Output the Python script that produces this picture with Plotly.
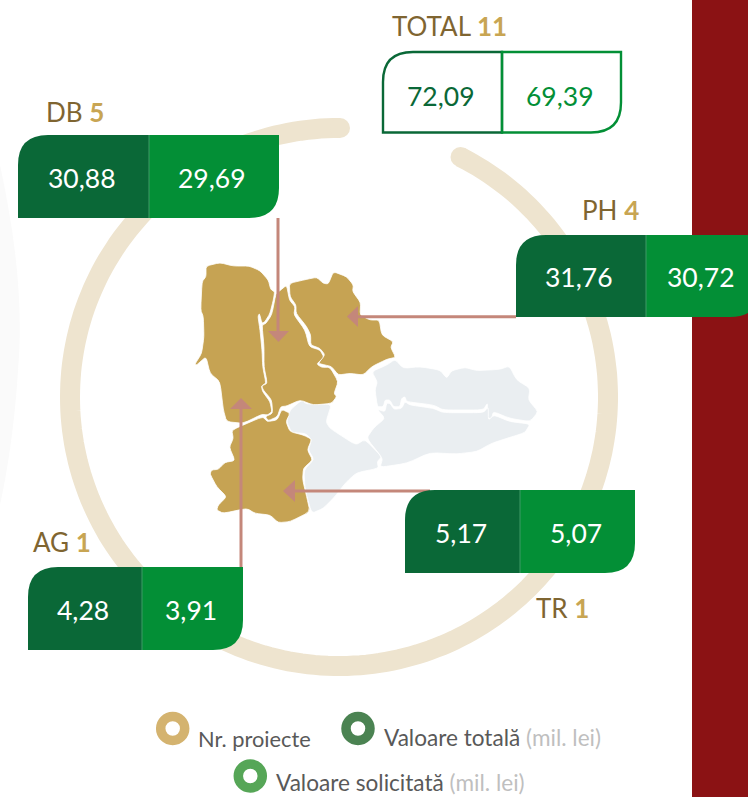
import math
import plotly.graph_objects as go

# ---- data ----
regions = ["DB", "PH", "TR", "AG"]
projects = [5, 4, 1, 1]
total_value = [30.88, 31.76, 5.17, 4.28]
requested_value = [29.69, 30.72, 5.07, 3.91]
total_label = "TOTAL"
total_projects = 11
total_all = 72.09
requested_all = 69.39
legend_items = ["Nr. proiecte", "Valoare totală", "Valoare solicitată"]
legend_unit = "(mil. lei)"

# ---- palette ----
DARK = "#0A6837"; LIGHT = "#038F36"; RING = "#EEE4CF"; RED = "#8B1214"
GOLD = "#C6A353"; GREY = "#EAEEF1"; ARROW = "#C4877A"; BROWN = "#7F6531"; NUM = "#C8A553"
FONT = "Lato"

W, H = 748, 797
shapes, ann = [], []

def fmt(v):
    return f"{v:.2f}".replace(".", ",")

def fill(path, color, lw=0, lc=None):
    shapes.append(dict(type="path", path=path, fillcolor=color, xref="x", yref="y", layer="below",
                       line=dict(width=lw, color=lc or color)))

def stroke(path, color, lw):
    shapes.append(dict(type="path", path=path, xref="x", yref="y", layer="below",
                       line=dict(width=lw, color=color)))

def zpoly(pts, t=0.25):
    # traced outline with softly rounded vertices
    p = [(190 + x / 3, 250 + y / 3) for x, y in pts]
    n = len(p)
    d = ""
    for i in range(n):
        a, b, c = p[i - 1], p[i], p[(i + 1) % n]
        s = (b[0] + (a[0] - b[0]) * t, b[1] + (a[1] - b[1]) * t)
        e = (b[0] + (c[0] - b[0]) * t, b[1] + (c[1] - b[1]) * t)
        d += ("M" if i == 0 else " L") + f"{s[0]:.1f},{s[1]:.1f} Q{b[0]:.1f},{b[1]:.1f} {e[0]:.1f},{e[1]:.1f}"
    return d + " Z"

def text(x, y, s, size, color="#FFFFFF", anchor="center"):
    ann.append(dict(x=x, y=y, text=s, showarrow=False, xref="x", yref="y", xanchor=anchor, yanchor="middle",
                    font=dict(family=FONT, size=size, color=color)))

def disc(cx, cy, r, color):
    shapes.append(dict(type="circle", x0=cx - r, x1=cx + r, y0=cy - r, y1=cy + r, xref="x", yref="y",
                       layer="below", fillcolor=color, line=dict(width=0)))

# page background pieces
fill("M692,0 L748,0 L748,797 L692,797 Z", RED)
fill("M0,165 C14,230 24,300 18,370 C15,420 8,470 0,505 Z", "#FAFAFA")

# ring
cx, cy, R = 339, 397, 269
a0 = math.atan2(158 - cy, 460 - cx)
a1 = math.atan2(128 - cy, 340 - cx) + 2 * math.pi
n = 240
ring = [(cx + R * math.cos(a0 + (a1 - a0) * i / n), cy + R * math.sin(a0 + (a1 - a0) * i / n)) for i in range(n + 1)]
stroke("M" + " L".join(f"{x:.1f},{y:.1f}" for x, y in ring), RING, 20)
disc(*ring[0], 10, RING)
disc(*ring[-1], 10, RING)

# map
west = [(48,48),(90,38),(130,48),(178,48),(210,62),(235,90),(242,118),(254,126),(250,150),(240,190),(225,215),(216,220),(208,190),(204,200),(210,240),(216,300),(218,350),(228,400),(214,408),(218,425),(240,455),(246,485),(232,495),(215,493),(160,520),(110,515),(100,480),(90,395),(60,370),(48,320),(20,345),(15,342),(35,310),(42,260),(40,200),(32,180),(36,95),(48,80)]
mid = [(290,105),(298,150),(315,170),(312,195),(345,240),(358,290),(390,300),(402,322),(380,342),(395,352),(420,352),(445,395),(432,430),(440,440),(425,460),(370,465),(330,450),(290,468),(272,470),(262,500),(235,512),(226,500),(248,490),(245,450),(220,420),(215,408),(232,400),(222,350),(222,290),(216,225),(228,220),(245,195),(258,130),(270,122)]
ne = [(298,100),(350,88),(380,82),(400,100),(415,102),(430,65),(470,80),(490,105),(488,125),(512,158),(510,195),(540,210),(568,210),(575,255),(610,275),(602,292),(617,322),(590,328),(545,350),(520,375),(480,370),(445,375),(425,350),(405,345),(385,340),(405,315),(390,295),(362,285),(362,255),(350,230),(318,190),(318,165),(300,140)]
south = [(125,540),(218,500),(232,515),(262,510),(275,478),(300,490),(288,515),(300,545),(340,555),(365,568),(352,600),(368,630),(340,655),(338,690),(350,740),(360,785),(300,815),(265,818),(240,795),(195,790),(170,775),(100,790),(80,780),(85,765),(110,740),(80,710),(60,672),(65,660),(85,658),(105,637),(135,632),(118,592),(130,565)]
g1 = [(300,480),(335,450),(350,462),(425,462),(408,515),(420,535),(497,585),(525,568),(575,620),(562,635),(565,655),(500,668),(470,695),(430,745),(400,775),(365,790),(345,720),(342,660),(372,628),(355,600),(365,568),(345,550),(305,548),(290,515)]
g2 = [(545,365),(590,345),(615,328),(640,355),(690,350),(750,360),(770,385),(785,362),(825,352),(860,362),(930,358),(958,348),(980,390),(1020,415),(1015,450),(1045,485),(1020,515),(960,505),(910,485),(905,505),(890,505),(893,458),(880,480),(760,480),(730,465),(650,455),(645,440),(635,445),(630,470),(610,470),(600,450),(585,450),(580,470),(562,470),(555,420),(562,395)]
g3 = [(562,478),(585,485),(590,460),(600,460),(612,478),(635,475),(645,455),(660,465),(730,475),(760,488),(880,488),(895,470),(895,510),(912,495),(960,515),(1020,522),(1005,548),(960,562),(905,580),(860,605),(800,612),(720,608),(650,640),(570,652),(578,625),(530,565),(550,535),(585,505)]
for p in (g1, g2, g3):
    fill(zpoly(p), GREY, 0.8, "#FFFFFF")
for p in (west, mid, ne, south):
    fill(zpoly(p), GOLD, 0.8, "#FFFFFF")

# leader lines
stroke("M278,218 L278,333", ARROW, 3)
fill("M268,331 L289,331 L278.5,342 Z", ARROW)
stroke("M516,316.7 L357,316.7", ARROW, 3)
fill("M358,306 L358,327 L347,316.5 Z", ARROW)
stroke("M430,491 L294,491", ARROW, 3)
fill("M295,480 L295,502 L283,491 Z", ARROW)
stroke("M241,567 L241,408", ARROW, 3)
fill("M230,409 L252,409 L241,398 Z", ARROW)

# boxes
def box_left(x0, x1, y0, y1, r=30):
    return f"M{x0},{y0+r} Q{x0},{y0} {x0+r},{y0} L{x1},{y0} L{x1},{y1} L{x0},{y1} Z"

def box_right(x0, x1, y0, y1, r=30):
    return f"M{x0},{y0} L{x1},{y0} L{x1},{y1-r} Q{x1},{y1} {x1-r},{y1} L{x0},{y1} Z"

boxes = {"DB": (18, 149, 279, 135, 218), "PH": (516, 646, 760, 235, 317),
         "TR": (405, 520, 635, 490, 573), "AG": (28, 142, 243, 567, 650)}
labels = {"DB": (44, 112), "PH": (580, 210), "TR": (534, 608), "AG": (31, 542)}
VAL = 26.5
LAB = 26
for i, name in enumerate(regions):
    x0, xm, x1, y0, y1 = boxes[name]
    fill(box_left(x0, xm, y0, y1), DARK)
    fill(box_right(xm, x1, y0, y1), LIGHT)
    stroke(f"M{xm},{y0} L{xm},{y1}", "#3E9A66", 1)
    text((x0 + xm) / 2 - 2, (y0 + y1) / 2 + 1, fmt(total_value[i]), VAL)
    text((xm + x1) / 2 - 2, (y0 + y1) / 2 + 1, fmt(requested_value[i]), VAL)
    lx, ly = labels[name]
    text(lx, ly, f'{name} <b><span style="color:{NUM}">{projects[i]}</span></b>', LAB, BROWN, "left")

# total box
stroke(box_left(383, 502, 52, 132.5), DARK, 2.4)
stroke(box_right(502, 621, 52, 132.5), LIGHT, 2.4)
text(440.5, 96, fmt(total_all), VAL, DARK)
text(559.5, 96, fmt(requested_all), VAL, LIGHT)
text(390, 26, f'{total_label} <b><span style="color:{NUM}">{total_projects}</span></b>', LAB, BROWN, "left")

# legend
def donut(x, y, color):
    shapes.append(dict(type="circle", x0=x - 12, x1=x + 12, y0=y - 12, y1=y + 12, xref="x", yref="y",
                       layer="below", fillcolor="#FFFFFF", line=dict(width=9.5, color=color)))

LEG = 22.6
donut(172.7, 728.5, "#D4B36F")
donut(358, 728.5, "#4B8352")
donut(250.3, 776, "#56A657")
unit = f'<span style="color:#BFBFBF">{legend_unit}</span>'
text(196, 738, legend_items[0], 21.8, "#595959", "left")
text(382, 737, f"{legend_items[1]} {unit}", LEG, "#595959", "left")
text(274, 782.5, f"{legend_items[2]} {unit}", LEG, "#595959", "left")

fig = go.Figure()
# invisible anchor trace that keeps the axes live
fig.add_trace(go.Scatter(x=[0, W], y=[0, H], mode="markers", marker=dict(opacity=0), hoverinfo="skip", showlegend=False))
fig.update_layout(
    width=W, height=H, autosize=False, margin=dict(l=0, r=0, t=0, b=0),
    paper_bgcolor="#FFFFFF", plot_bgcolor="#FFFFFF", showlegend=False,
    xaxis=dict(range=[0, W], visible=False, fixedrange=True),
    yaxis=dict(range=[H, 0], visible=False, fixedrange=True),
    shapes=shapes, annotations=ann, font=dict(family=FONT),
)
fig.write_html("out.html", config=dict(displayModeBar=False),
               post_script="document.body.style.margin='0';document.body.style.overflow='hidden';")
